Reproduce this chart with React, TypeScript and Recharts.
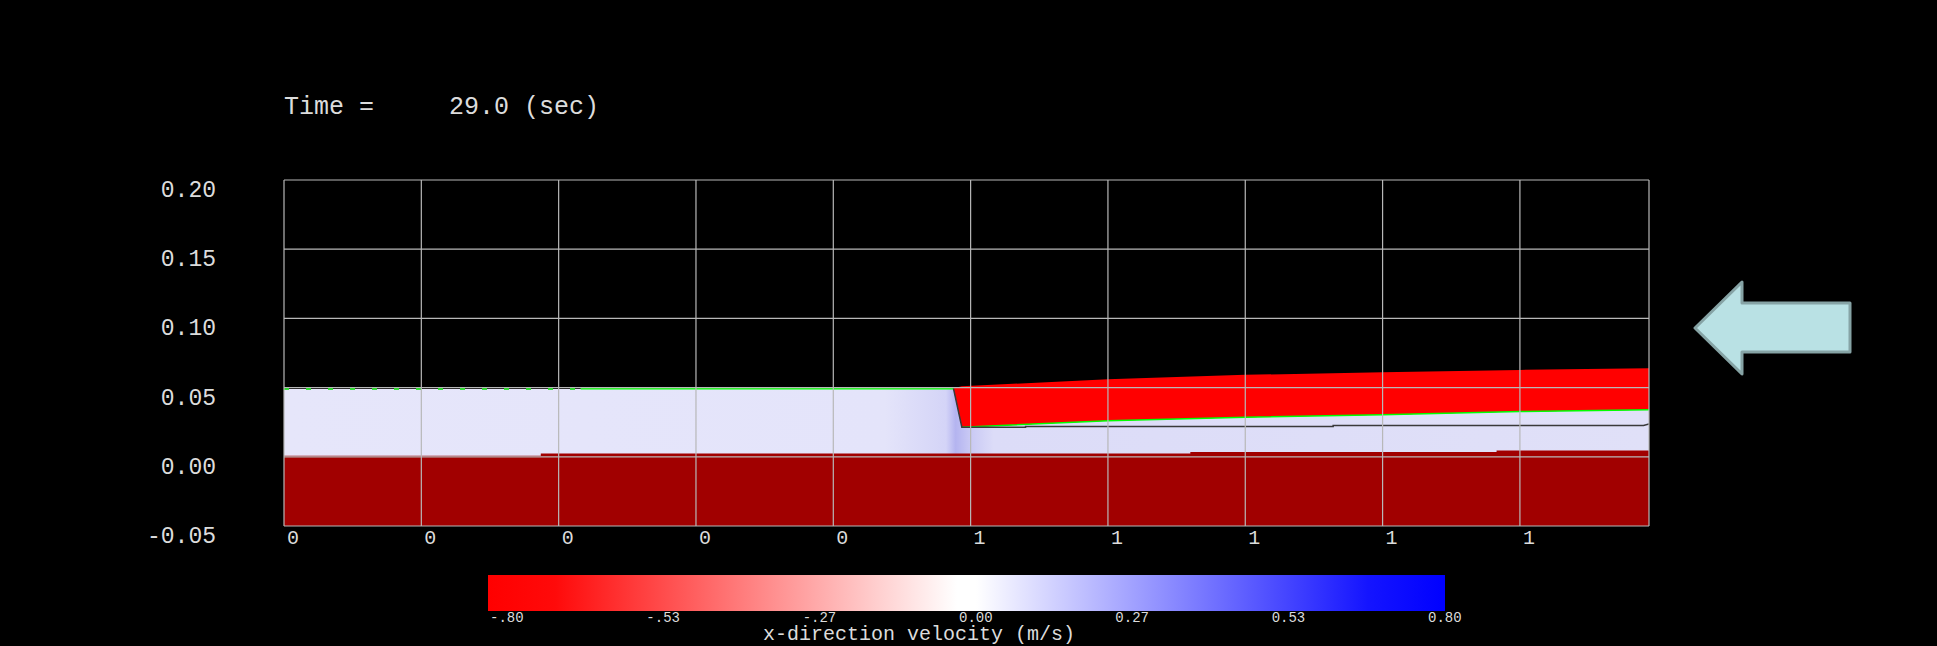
import { ComposedChart, Area, Line, XAxis, YAxis, CartesianGrid } from "recharts";

// axis setup
const X_MAX = 0.994;
const Y_MIN = -0.05;
const Y_MAX = 0.2;
const xTicks = [0, 0.1, 0.2, 0.3, 0.4, 0.5, 0.6, 0.7, 0.8, 0.9, X_MAX];
const yTicks = [-0.05, 0, 0.05, 0.1, 0.15, 0.2];

// bed (solid) top edge
const bedX = [0, 0.187, 0.187, 0.66, 0.66, 0.883, 0.883, X_MAX];
const bedTop = [0.0007, 0.0007, 0.0023, 0.0023, 0.0035, 0.0035, 0.0045, 0.0045];

// water body (lavender) top edge
const waterX = [0, 0.4875, 0.4936, 0.6, 0.7, 0.8, 0.9, X_MAX];
const waterTop = [0.049, 0.049, 0.0214, 0.026, 0.0286, 0.0303, 0.0327, 0.034];

// surge layer moving left (red)
const surgeX = [0.4875, 0.4936, 0.6, 0.7, 0.8, 0.9, X_MAX];
const surgeBottom = [0.0495, 0.0214, 0.026, 0.0286, 0.0303, 0.0327, 0.034];
const surgeTop = [0.0495, 0.051, 0.056, 0.0592, 0.0611, 0.0628, 0.064];

// dark interface line
const interfaceX = [0.4875, 0.4936, 0.54, 0.54, 0.764, 0.764, 0.99, X_MAX];
const interfaceY = [0.0495, 0.0214, 0.0214, 0.0219, 0.0219, 0.0226, 0.0226, 0.0238];

// green free-surface markers
const surfaceX = [0.216, 0.4875];
const surfaceY = [0.0492, 0.0492];
const surfaceDotX = [0, 0.216];
const surfaceDotY = [0.0492, 0.0492];

// colour bar
const barLabels = ["-.80", "-.53", "-.27", "0.00", "0.27", "0.53", "0.80"];

const W = 1937;
const H = 646;
const PLOT_LEFT = 284;
const PLOT_RIGHT = 1649;
const PLOT_TOP = 180;
const PLOT_BOTTOM = 526;
const Y_AXIS_W = 80;
const X_AXIS_H = 30;
const MONO = "'Liberation Mono', 'DejaVu Sans Mono', monospace";
const TEXT = "#dcdcdc";

const pts = (xs: number[], ys: number[]) => xs.map((x, i) => ({ x, y: ys[i] }));
const range = (xs: number[], lo: number[] | number, hi: number[]) =>
  xs.map((x, i) => ({ x, v: [Array.isArray(lo) ? lo[i] : lo, hi[i]] }));

const bedData = range(bedX, Y_MIN, bedTop);
const waterData = range(waterX, 0, waterTop);
const surgeData = range(surgeX, surgeBottom, surgeTop);

const YTick = (props: any) => {
  const { y, payload } = props;
  return (
    <text x={PLOT_LEFT - 68} y={y + 11} textAnchor="end" dominantBaseline="central"
      fill={TEXT} fontSize={23} fontFamily={MONO}>
      {payload.value.toFixed(2)}
    </text>
  );
};

const XTick = (props: any) => {
  const { x, payload } = props;
  if (payload.value > 0.95) return <g />;
  return (
    <text x={x + 3} y={PLOT_BOTTOM + 12} textAnchor="start" dominantBaseline="central"
      fill={TEXT} fontSize={20} fontFamily={MONO}>
      {Math.round(payload.value)}
    </text>
  );
};

const BAR_L = 488;
const BAR_R = 1445;
const BAR_T = 575;
const BAR_B = 611;

export default function App() {
  return (
    <div style={{ position: "fixed", left: 0, top: 0, width: W, height: H, background: "#000", overflow: "hidden" }}>
      <div style={{ position: "absolute", left: 0, top: 0 }}>
        <ComposedChart
          width={W}
          height={H}
          margin={{ top: PLOT_TOP, right: W - PLOT_RIGHT, bottom: H - PLOT_BOTTOM - X_AXIS_H, left: PLOT_LEFT - Y_AXIS_W }}
        >
          <defs>
            <linearGradient id="waterFill" x1="0" y1="0" x2="1" y2="0">
              <stop offset="0" stopColor="#e6e6fa" />
              <stop offset="0.44" stopColor="#e4e4fa" />
              <stop offset="0.485" stopColor="#d4d4f7" />
              <stop offset="0.492" stopColor="#b4b4f0" />
              <stop offset="0.502" stopColor="#c8c8f4" />
              <stop offset="0.52" stopColor="#dcdcf8" />
              <stop offset="1" stopColor="#e0e0f8" />
            </linearGradient>
          </defs>
          <XAxis dataKey="x" type="number" domain={[0, X_MAX]} ticks={xTicks} allowDataOverflow
            axisLine={false} tickLine={false} height={X_AXIS_H} tick={<XTick />} interval={0} />
          <YAxis type="number" domain={[Y_MIN, Y_MAX]} ticks={yTicks} allowDataOverflow
            axisLine={false} tickLine={false} width={Y_AXIS_W} tick={<YTick />} interval={0} />
          <Area data={waterData} dataKey="v" type="linear" stroke="none" fill="url(#waterFill)" fillOpacity={1} isAnimationActive={false} />
          <Area data={bedData} dataKey="v" type="linear" stroke="none" fill="#a10000" fillOpacity={1} isAnimationActive={false} />
          <Area data={surgeData} dataKey="v" type="linear" stroke="none" fill="#ff0000" fillOpacity={1} isAnimationActive={false} />
          <Line data={pts(surgeX.slice(1), surgeBottom.slice(1))} dataKey="y" type="linear" stroke="#00ff00" strokeWidth={1.5} dot={false} isAnimationActive={false} />
          <Line data={pts(surfaceX, surfaceY)} dataKey="y" type="linear" stroke="#00ff00" strokeWidth={1.5} dot={false} isAnimationActive={false} />
          <Line data={pts(surfaceDotX, surfaceDotY)} dataKey="y" type="linear" stroke="#00e000" strokeWidth={2} strokeDasharray="5 17" dot={false} isAnimationActive={false} />
          <Line data={pts(interfaceX, interfaceY)} dataKey="y" type="linear" stroke="#3a3a3a" strokeWidth={1.5} dot={false} isAnimationActive={false} />
          <CartesianGrid stroke="#b8b8b8" strokeWidth={1.2} zIndex={2000} />
        </ComposedChart>
      </div>
      <svg width={W} height={H} style={{ position: "absolute", left: 0, top: 0, pointerEvents: "none" }}>
        <text x={284} y={114} fill={TEXT} fontSize={25} fontFamily={MONO} style={{ whiteSpace: "pre" }}>
          {"Time =     29.0 (sec)"}
        </text>
        <defs>
          <linearGradient id="barFill" x1="0" y1="0" x2="1" y2="0">
            <stop offset="0" stopColor="#ff0000" />
            <stop offset="0.07" stopColor="#ff0a0a" />
            <stop offset="0.49" stopColor="#ffffff" />
            <stop offset="0.51" stopColor="#ffffff" />
            <stop offset="0.92" stopColor="#1414ff" />
            <stop offset="1" stopColor="#0000ff" />
          </linearGradient>
        </defs>
        <rect x={BAR_L} y={BAR_T} width={BAR_R - BAR_L} height={BAR_B - BAR_T} fill="url(#barFill)" />
        {barLabels.map((t, i) => (
          <text key={t} x={BAR_L + 2 + i * ((1428 - 490) / 6)} y={622} fill={TEXT} fontSize={14} fontFamily={MONO}>
            {t}
          </text>
        ))}
        <text x={763} y={640} fill={TEXT} fontSize={20} fontFamily={MONO}>
          x-direction velocity (m/s)
        </text>
        <polygon
          points="1695,328 1742,282 1742,303 1850,303 1850,352 1742,352 1742,374"
          fill="#b9e1e4" stroke="#86a3a5" strokeWidth={3} strokeLinejoin="round"
        />
      </svg>
    </div>
  );
}
